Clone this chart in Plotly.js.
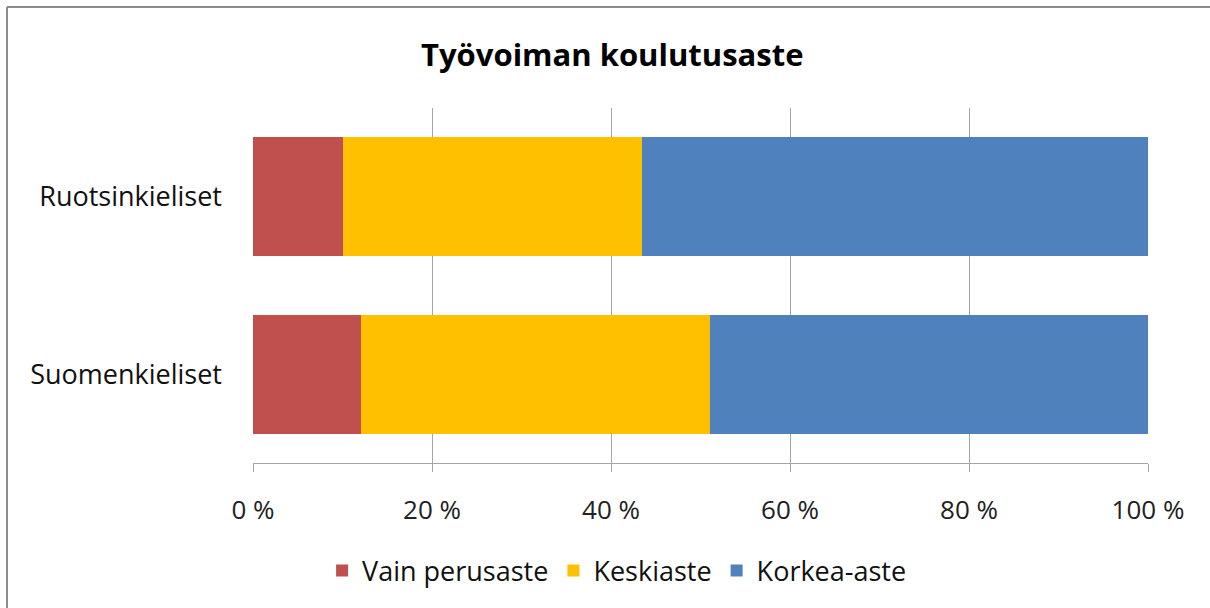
<!DOCTYPE html>
<html>
<head>
<meta charset="utf-8">
<script src="https://cdn.plot.ly/plotly-3.0.1.min.js"></script>
<style>
html,body{margin:0;padding:0;background:#fff;overflow:hidden;}
#chart{width:1210px;height:608px;}
</style>
</head>
<body>
<div id="chart"></div>
<script>
const categories = ["Suomenkieliset", "Ruotsinkieliset"];
const seriesNames = ["Vain perusaste", "Keskiaste", "Korkea-aste"];
const vainPerusaste = [12.1, 10.0];
const keskiaste = [39.0, 33.5];
const korkeaAste = [48.9, 56.5];
const tickValues = [0, 20, 40, 60, 80, 100];
const tickLabels = ["0 %", "20 %", "40 %", "60 %", "80 %", "100 %"];
const colors = ["#C0504D", "#FFC000", "#4F81BD"];

const font = "Open Sans, Noto Sans, sans-serif";
const values = [vainPerusaste, keskiaste, korkeaAste];
const traces = values.map((v, i) => ({
  type: "bar",
  orientation: "h",
  name: seriesNames[i],
  y: categories,
  x: v,
  marker: {color: colors[i], line: {width: 0}},
  hoverinfo: "x+name"
}));

// chart frame (left and top edges only, as in the reference)
const W = 1210, H = 608, mL = 253, mR = 62, mT = 108, mB = 145;
const pw = W - mL - mR, ph = H - mT - mB;
const px = x => (x - mL) / pw;
const py = y => (H - mB - y) / ph;

const layout = {
  width: W, height: H,
  paper_bgcolor: "#fff", plot_bgcolor: "#fff",
  barmode: "stack",
  bargap: 0.33,
  margin: {l: mL, r: mR, t: mT, b: mB},
  title: {text: "<b>Työvoiman koulutusaste</b>", font: {family: font, size: 31, color: "#000"},
          x: 0.506, xref: "container", xanchor: "center", y: 0.91, yref: "container", yanchor: "middle"},
  xaxis: {range: [0, 100], tickvals: tickValues, ticktext: tickLabels,
          showgrid: true, gridcolor: "#a6a6a6", gridwidth: 1,
          showline: true, linecolor: "#a6a6a6", linewidth: 1,
          ticks: "outside", ticklen: 8, tickcolor: "#a6a6a6",
          ticklabelstandoff: 16,
          tickfont: {family: font, size: 26, color: "#222"}, zeroline: false, fixedrange: true},
  yaxis: {showgrid: false, showline: false, ticks: "", ticklabelstandoff: 30,
          tickfont: {family: font, size: 27, color: "#111"}, fixedrange: true},
  showlegend: true,
  legend: {orientation: "h", xref: "container", yref: "container", x: 0.51, xanchor: "center",
           y: 0.061, yanchor: "middle", font: {family: font, size: 27, color: "#111"},
           traceorder: "normal", itemwidth: 30, tracegroupgap: 0},
  shapes: [
    {type: "line", xref: "paper", yref: "paper", x0: px(7), x1: px(7), y0: py(H + 5), y1: py(7),
     line: {color: "#8c8c8c", width: 2}},
    {type: "line", xref: "paper", yref: "paper", x0: px(7), x1: px(W + 5), y0: py(7), y1: py(7),
     line: {color: "#8c8c8c", width: 2}}
  ]
};

Plotly.newPlot("chart", traces, layout, {displayModeBar: false, staticPlot: true});
</script>
</body>
</html>
